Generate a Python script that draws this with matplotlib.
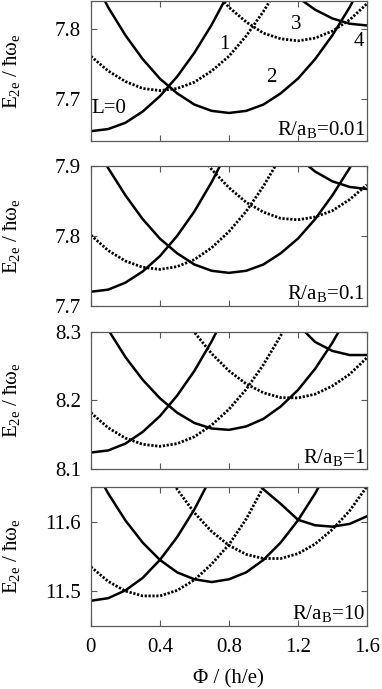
import matplotlib
matplotlib.use("Agg")
import matplotlib.pyplot as plt

plt.rcParams['font.family'] = ['Liberation Serif', 'DejaVu Serif']
plt.rcParams['mathtext.fontset'] = 'custom'
plt.rcParams['mathtext.rm'] = 'Liberation Serif'
plt.rcParams['mathtext.it'] = 'Liberation Serif:italic'

# flux values for each curve (h/e) and energies
phi_L0 = [0.0, 0.1, 0.2, 0.3, 0.4, 0.5, 0.6, 0.7, 0.8]
phi_L1 = [0.0, 0.1, 0.2, 0.3, 0.4, 0.5, 0.6, 0.7, 0.8, 0.9, 1.0, 1.1, 1.2]
phi_L2 = [0.0, 0.1, 0.2, 0.3, 0.4, 0.5, 0.6, 0.7, 0.8, 0.9, 1.0, 1.1, 1.2, 1.3, 1.4, 1.5, 1.6]
phi_L3 = [0.4, 0.5, 0.6, 0.7, 0.8, 0.9, 1.0, 1.1, 1.2, 1.3, 1.4, 1.5, 1.6]
phi_L4 = [0.9, 1.0, 1.1, 1.2, 1.3, 1.4, 1.5, 1.6]

# R/aB = 0.01
E001_L0 = [7.654, 7.657, 7.666, 7.682, 7.704, 7.732, 7.766, 7.806, 7.852]
E001_L1 = [7.761, 7.740, 7.725, 7.715, 7.712, 7.715, 7.724, 7.740, 7.761, 7.790, 7.825, 7.865, 7.910]
E001_L2 = [7.878, 7.831, 7.791, 7.757, 7.729, 7.708, 7.692, 7.683, 7.680, 7.683, 7.692, 7.708, 7.729, 7.757, 7.791, 7.831, 7.878]
E001_L3 = [7.910, 7.890, 7.880, 7.859, 7.831, 7.810, 7.794, 7.786, 7.783, 7.787, 7.797, 7.813, 7.836]
E001_L4 = [7.900, 7.890, 7.8675, 7.845, 7.8275, 7.815, 7.8075, 7.805]

# R/aB = 0.1
E01_L0 = [7.720, 7.723, 7.733, 7.749, 7.771, 7.800, 7.835, 7.877, 7.925]
E01_L1 = [7.801, 7.779, 7.764, 7.755, 7.752, 7.756, 7.766, 7.783, 7.806, 7.835, 7.871, 7.913, 7.960]
E01_L2 = [7.943, 7.897, 7.858, 7.824, 7.796, 7.775, 7.759, 7.750, 7.747, 7.750, 7.759, 7.775, 7.796, 7.824, 7.858, 7.897, 7.943]
E01_L3 = [7.970, 7.960, 7.927, 7.895, 7.869, 7.848, 7.834, 7.825, 7.823, 7.827, 7.836, 7.852, 7.873]
E01_L4 = [7.990, 7.965, 7.937, 7.912, 7.892, 7.878, 7.870, 7.867]

# R/aB = 1
E1_L0 = [8.124, 8.127, 8.137, 8.154, 8.177, 8.207, 8.243, 8.286, 8.335]
E1_L1 = [8.182, 8.160, 8.145, 8.136, 8.133, 8.137, 8.147, 8.164, 8.187, 8.216, 8.252, 8.294, 8.345]
E1_L2 = [8.349, 8.303, 8.263, 8.230, 8.203, 8.182, 8.167, 8.159, 8.157, 8.162, 8.173, 8.191, 8.215, 8.246, 8.284, 8.328, 8.375]
E1_L3 = [8.380, 8.336, 8.299, 8.268, 8.243, 8.224, 8.211, 8.204, 8.2035, 8.209, 8.221, 8.238, 8.262]
E1_L4 = [8.390, 8.365, 8.338, 8.310, 8.285, 8.272, 8.266, 8.266]

# R/aB = 10
E10_L0 = [11.486, 11.4897, 11.501, 11.519, 11.545, 11.578, 11.618, 11.666, 11.720]
E10_L1 = [11.535, 11.514, 11.500, 11.493, 11.493, 11.501, 11.516, 11.539, 11.567, 11.604, 11.650, 11.700, 11.750]
E10_L2 = [11.687, 11.641, 11.602, 11.570, 11.545, 11.527, 11.517, 11.513, 11.517, 11.527, 11.545, 11.570, 11.602, 11.641, 11.687, 11.740, 11.790]
E10_L3 = [11.687, 11.647, 11.613, 11.586, 11.566, 11.553, 11.547, 11.547, 11.554, 11.568, 11.589, 11.616, 11.651]
E10_L4 = [11.672, 11.647, 11.626, 11.603, 11.595, 11.593, 11.597, 11.608]

panels = [
    ([E001_L0, E001_L1, E001_L2, E001_L3, E001_L4], (7.64, 7.84), [7.7, 7.8], "0.01"),
    ([E01_L0, E01_L1, E01_L2, E01_L3, E01_L4], (7.7, 7.9), [7.7, 7.8, 7.9], "0.1"),
    ([E1_L0, E1_L1, E1_L2, E1_L3, E1_L4], (8.1, 8.3), [8.1, 8.2, 8.3], "1"),
    ([E10_L0, E10_L1, E10_L2, E10_L3, E10_L4], (11.45, 11.651), [11.5, 11.6], "10"),
]
phis = [phi_L0, phi_L1, phi_L2, phi_L3, phi_L4]

# axes boxes in figure fractions (left, bottom, width, height)
boxes = [
    (0.238, 0.7954, 0.7225, 0.2032),
    (0.238, 0.5563, 0.7225, 0.2028),
    (0.238, 0.3193, 0.7225, 0.1993),
    (0.238, 0.0919, 0.7225, 0.2020),
]

fs = 15

fig = plt.figure(figsize=(3.82, 6.89), dpi=100)

for i, (curves, ylim, yticks, rval) in enumerate(panels):
    ax = fig.add_axes(boxes[i])
    for L in range(5):
        if L % 2 == 0:
            ax.plot(phis[L], curves[L], color='black', lw=1.8)
        else:
            ax.plot(phis[L], curves[L], color='black', lw=2.0, linestyle=(0, (0.8, 0.6)))
    ax.set_xlim(0, 1.6)
    ax.set_ylim(*ylim)
    ax.set_yticks(yticks)
    ax.set_yticklabels([("%g" % t) for t in yticks])
    ax.set_xticks([0, 0.4, 0.8, 1.2, 1.6])
    ax.tick_params(direction='in', top=True, right=True, length=4, width=0.8,
                   labelsize=fs, color='0.35')
    ax.tick_params(axis='y', pad=7)
    ax.tick_params(axis='x', pad=9)
    if i < 3:
        ax.set_xticklabels([])
    else:
        ax.set_xticklabels(['0', '0.4', '0.8', '1.2', '1.6'])
        ax.set_xlabel('Φ / (h/e)', fontsize=fs, labelpad=9)
    for s in ax.spines.values():
        s.set_color('0.35')
        s.set_linewidth(0.9)
    ax.set_ylabel(r'E$_{\mathrm{2e}}$ / ħω$_{\mathrm{e}}$', fontsize=fs)
    ax.yaxis.set_label_coords(-0.25, 0.5)
    ax.text(0.993, 0.045, r'R/a$_{\mathrm{B}}$=' + rval, transform=ax.transAxes,
            ha='right', va='baseline', fontsize=fs)
    if i == 0:
        ax.text(0.005, 7.687, 'L=0', ha='left', va='center', fontsize=fs)
        ax.text(0.775, 7.778, '1', ha='center', va='center', fontsize=fs)
        ax.text(1.045, 7.730, '2', ha='center', va='center', fontsize=fs)
        ax.text(1.19, 7.806, '3', ha='center', va='center', fontsize=fs)
        ax.text(1.552, 7.782, '4', ha='center', va='center', fontsize=fs)

fig.savefig('out.png', dpi=100)
